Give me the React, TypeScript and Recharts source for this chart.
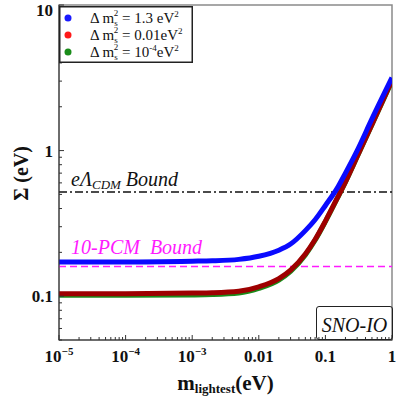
import React from "react";
import { LineChart, Line, XAxis, YAxis, ReferenceLine, ReferenceArea, Legend } from "recharts";

// lightest neutrino mass (eV) and the sum of masses
const mLightest = [1e-5, 1e-4, 1e-3, 0.002, 0.005, 0.01, 0.02, 0.03, 0.05, 0.07, 0.1, 0.15, 0.2, 0.3, 0.5, 1];
const sigmaLarge = [0.172, 0.172, 0.174, 0.175, 0.179, 0.188, 0.207, 0.228, 0.282, 0.335, 0.42, 0.55, 0.7, 1.0, 1.65, 3.17];
const sigmaMid = [0.104, 0.104, 0.105, 0.1055, 0.108, 0.116, 0.132, 0.151, 0.195, 0.245, 0.328, 0.47, 0.61, 0.91, 1.51, 3.05];
const sigmaSmall = [0.1015, 0.1015, 0.102, 0.1025, 0.105, 0.113, 0.129, 0.148, 0.192, 0.242, 0.325, 0.467, 0.607, 0.907, 1.505, 3.0];

const legendMass = ["1.3 ", "0.01", "10"];
const legendExp = ["", "", "-4"];
const legendDots = ["#1a1aff", "#ff1a1a", "#1a8c1a"];

const xMajorTicks = [1e-5, 1e-4, 1e-3, 0.01, 0.1, 1];
const xTickBase = ["10", "10", "10", "0.01", "0.1", "1"];
const xTickExp = ["\u22125", "\u22124", "\u22123", "", "", ""];
const yMajorTicks = [0.1, 1, 10];
const yTickLabels = ["0.1", "1", "10"];
const minorSteps = [2, 3, 4, 5, 6, 7, 8, 9];
const yLowSteps = [5, 6, 7, 8, 9];

const cosmoBound = 0.52;
const pcmBound = 0.16;

const FONT = "'Liberation Serif', 'Times New Roman', serif";

const data = mLightest.map((m, i) => ({ m, large: sigmaLarge[i], mid: sigmaMid[i], small: sigmaSmall[i] }));

const xTicks = [
  ...xMajorTicks,
  ...xMajorTicks.slice(0, -1).flatMap((d) => minorSteps.map((s) => d * s)),
];
const yTicks = [
  ...yMajorTicks,
  ...yLowSteps.map((s) => 0.01 * s),
  ...yMajorTicks.slice(0, -1).flatMap((d) => minorSteps.map((s) => d * s)),
];

const XTick = (props: any) => {
  const { x, y, payload } = props;
  const i = xMajorTicks.indexOf(payload.value);
  const major = i >= 0;
  return (
    <g>
      <line x1={x} x2={x} y1={y} y2={y - (major ? 5 : 3)} stroke="#333" strokeWidth={1} />
      {major && (
        <text x={x} y={y + 22} textAnchor="middle" fontFamily={FONT} fontWeight="bold" fontSize={17} fill="#111">
          <tspan>{xTickBase[i]}</tspan>
          {xTickExp[i] && (
            <tspan dy={-7} fontSize={11}>
              {xTickExp[i]}
            </tspan>
          )}
        </text>
      )}
    </g>
  );
};

const YTick = (props: any) => {
  const { x, y, payload } = props;
  const i = yMajorTicks.indexOf(payload.value);
  const major = i >= 0;
  return (
    <g>
      <line x1={x} x2={x + (major ? 5 : 3)} y1={y} y2={y} stroke="#333" strokeWidth={1} />
      {major && (
        <text x={x - 6} y={Math.max(y + 6, 16)} textAnchor="end" fontFamily={FONT} fontWeight="bold" fontSize={17} fill="#111">
          {yTickLabels[i]}
        </text>
      )}
    </g>
  );
};

const XTitle = (props: any) => {
  const { viewBox } = props;
  const cx = viewBox.x + viewBox.width / 2;
  return (
    <text x={cx} y={viewBox.y + 50} textAnchor="middle" fontFamily={FONT} fontWeight="bold" fontSize={21} fill="#111">
      <tspan>m</tspan>
      <tspan fontSize={13} dy={3}>lightest</tspan>
      <tspan dy={-3}>(eV)</tspan>
    </text>
  );
};

const YTitle = (props: any) => {
  const { viewBox } = props;
  const cy = viewBox.y + viewBox.height / 2 + 1;
  const x = 28;
  return (
    <text x={x} y={cy} transform={`rotate(-90, ${x}, ${cy})`} textAnchor="middle" fontFamily={FONT} fontWeight="bold" fontSize={20} fill="#111">
      Σ (eV)
    </text>
  );
};

const CosmoLabel = (props: any) => {
  const { viewBox } = props;
  return (
    <text x={viewBox.x + 12} y={viewBox.y - 6} fontFamily={FONT} fontStyle="italic" fontSize={20} fill="#111">
      <tspan>eΛ</tspan>
      <tspan fontSize={13} dy={3}>CDM</tspan>
      <tspan dy={-3}> Bound</tspan>
    </text>
  );
};

const PcmLabel = (props: any) => {
  const { viewBox } = props;
  return (
    <text x={viewBox.x + 12} y={viewBox.y - 12} fontFamily={FONT} fontStyle="italic" fontSize={20} fill="#ff1aff" xmlSpace="preserve">
      10-PCM  Bound
    </text>
  );
};

const LegendBox = () => (
  <svg width={134} height={57} style={{ display: "block" }}>
    <rect x={0.75} y={0.75} width={132.5} height={55.5} fill="#fff" stroke="#222" strokeWidth={1.5} />
    {legendMass.map((mass, i) => {
      const cy = 12 + i * 17;
      const base = cy + 5;
      return (
        <g key={i}>
          <circle cx={9} cy={cy} r={3.5} fill={legendDots[i]} />
          <text x={31} y={base} fontFamily={FONT} fontSize={15} fill="#111">
            <tspan>Δ m</tspan>
            <tspan fontSize={9} dy={3}>s</tspan>
            <tspan fontSize={9} dx={-4} dy={-10}>2</tspan>
            <tspan dy={7}>{" = " + mass}</tspan>
            {legendExp[i] && (
              <tspan fontSize={9} dy={-6}>
                {legendExp[i]}
              </tspan>
            )}
            <tspan dy={legendExp[i] ? 6 : 0}>eV</tspan>
            <tspan fontSize={9} dy={-6}>2</tspan>
          </text>
        </g>
      );
    })}
  </svg>
);

export default function App() {
  return (
    <div style={{ position: "absolute", left: 0, top: 0, width: 399, height: 399, background: "#fff" }}>
      <LineChart width={399} height={399} data={data} margin={{ top: 5, right: 7, left: 0, bottom: 0 }}>
        <ReferenceArea x1={1e-5} x2={1} y1={0.05} y2={10} fill="none" stroke="#8a8a8a" strokeWidth={1.5} ifOverflow="visible" />
        <XAxis
          dataKey="m"
          type="number"
          scale="log"
          domain={[1e-5, 1]}
          ticks={xTicks}
          interval={0}
          allowDataOverflow
          height={59}
          tickSize={0}
          tickMargin={0}
          tickLine={false}
          axisLine={{ stroke: "#333", strokeWidth: 1 }}
          tick={<XTick />}
          label={<XTitle />}
        />
        <YAxis
          type="number"
          scale="log"
          domain={[0.05, 10]}
          ticks={yTicks}
          interval={0}
          allowDataOverflow
          width={59}
          tickSize={0}
          tickMargin={0}
          tickLine={false}
          axisLine={{ stroke: "#333", strokeWidth: 1 }}
          tick={<YTick />}
          label={<YTitle />}
        />
        <ReferenceLine y={cosmoBound} stroke="#111" strokeWidth={1.5} strokeDasharray="8 3 2 3" label={<CosmoLabel />} />
        <ReferenceLine y={pcmBound} stroke="#ff1aff" strokeWidth={1.5} strokeDasharray="7 4" label={<PcmLabel />} />
        <Line type="monotone" dataKey="small" stroke="#1a8c1a" strokeWidth={5} dot={false} isAnimationActive={false} />
        <Line type="monotone" dataKey="mid" stroke="#9e0000" strokeWidth={5} dot={false} isAnimationActive={false} />
        <Line type="monotone" dataKey="large" stroke="#0a0aff" strokeWidth={5} dot={false} isAnimationActive={false} />
        <Legend
          content={<LegendBox />}
          layout="vertical"
          align="center"
          verticalAlign="middle"
          wrapperStyle={{ left: 59, top: 6, width: 134, height: 57 }}
        />
      </LineChart>
      <div
        style={{
          position: "absolute",
          left: 316,
          top: 306,
          width: 77,
          height: 34,
          boxSizing: "border-box",
          border: "1.5px solid #222",
          borderRadius: 3,
          fontFamily: FONT,
          fontStyle: "italic",
          fontSize: 20,
          color: "#111",
          textAlign: "center",
          lineHeight: "36px",
        }}
      >
        SNO-IO
      </div>
    </div>
  );
}
